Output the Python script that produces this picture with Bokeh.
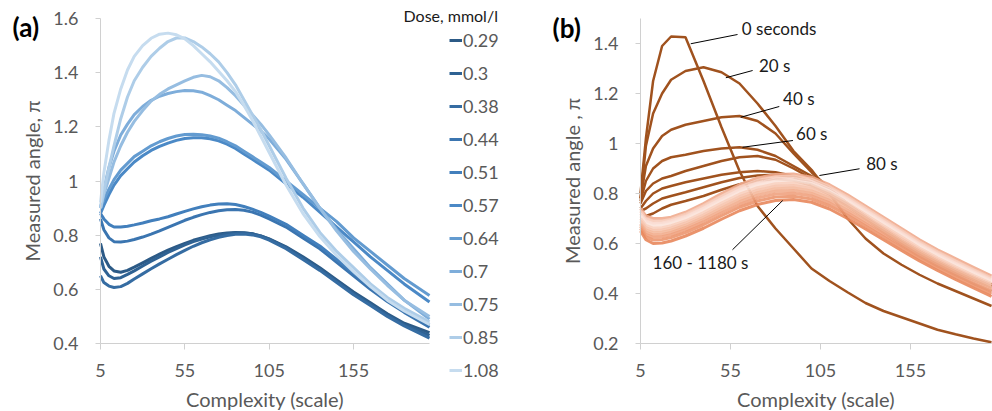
from bokeh.plotting import figure
from bokeh.models import Range1d, FixedTicker, Legend, LegendItem, Label, LinearAxis
from bokeh.layouts import row
from bokeh.embed import file_html
from bokeh.resources import INLINE

FONT = "Lato"
GREY = "#595959"
AXIS_GREY = "#d0d0d0"

# ---------------- Panel (a): dose series ----------------
COMPLEXITY_A = [5, 7, 10, 13, 17, 21, 25, 30, 35, 40, 45, 50, 55, 60, 65, 70, 75, 80, 85, 90, 95, 100,
                105, 115, 125, 135, 145, 155, 165, 175, 185, 200]
DOSE_LABELS = ["0.29", "0.3", "0.38", "0.44", "0.51", "0.57", "0.64", "0.7", "0.75", "0.85", "1.08"]
dose_029 = [0.77, 0.72, 0.685, 0.668, 0.663, 0.67, 0.682, 0.698, 0.714, 0.73, 0.745, 0.758, 0.77, 0.781, 0.79, 0.798,
            0.804, 0.808, 0.81, 0.809, 0.805, 0.797, 0.786, 0.757, 0.72, 0.68, 0.635, 0.59, 0.55, 0.51, 0.475, 0.44]
dose_030 = [0.72, 0.675, 0.65, 0.64, 0.643, 0.655, 0.668, 0.686, 0.704, 0.72, 0.736, 0.75, 0.764, 0.776, 0.786, 0.794,
            0.80, 0.805, 0.808, 0.808, 0.805, 0.797, 0.785, 0.755, 0.715, 0.675, 0.63, 0.585, 0.545, 0.505, 0.47, 0.43]
dose_038 = [0.65, 0.625, 0.612, 0.607, 0.61, 0.622, 0.638, 0.657, 0.676, 0.694, 0.711, 0.728, 0.744, 0.759, 0.772, 0.783,
            0.792, 0.799, 0.803, 0.804, 0.801, 0.794, 0.782, 0.75, 0.71, 0.67, 0.625, 0.58, 0.54, 0.50, 0.465, 0.42]
dose_044 = [0.86, 0.82, 0.79, 0.776, 0.775, 0.778, 0.784, 0.793, 0.804, 0.816, 0.829, 0.842, 0.855, 0.866, 0.876, 0.884,
            0.89, 0.894, 0.895, 0.892, 0.885, 0.874, 0.86, 0.83, 0.79, 0.75, 0.70, 0.65, 0.60, 0.555, 0.515, 0.46]
dose_051 = [0.88, 0.86, 0.84, 0.83, 0.83, 0.833, 0.838, 0.845, 0.853, 0.86, 0.868, 0.878, 0.888, 0.897, 0.905, 0.911,
            0.915, 0.916, 0.913, 0.906, 0.896, 0.884, 0.87, 0.84, 0.80, 0.76, 0.71, 0.66, 0.61, 0.565, 0.525, 0.47]
dose_057 = [0.88, 0.91, 0.95, 0.985, 1.02, 1.045, 1.07, 1.093, 1.113, 1.128, 1.14, 1.15, 1.157, 1.16, 1.16, 1.156,
            1.148, 1.136, 1.12, 1.10, 1.08, 1.06, 1.04, 0.99, 0.94, 0.885, 0.83, 0.775, 0.72, 0.67, 0.62, 0.553]
dose_064 = [0.90, 0.93, 0.97, 1.005, 1.04, 1.065, 1.09, 1.11, 1.13, 1.145, 1.157, 1.166, 1.172, 1.173, 1.171, 1.166,
            1.158, 1.145, 1.13, 1.11, 1.09, 1.07, 1.05, 1.00, 0.95, 0.90, 0.85, 0.79, 0.74, 0.69, 0.64, 0.577]
dose_070 = [0.90, 0.97, 1.05, 1.11, 1.17, 1.21, 1.245, 1.275, 1.298, 1.313, 1.323, 1.33, 1.334, 1.333, 1.328, 1.315,
            1.30, 1.28, 1.26, 1.235, 1.21, 1.185, 1.155, 1.08, 0.99, 0.90, 0.82, 0.75, 0.68, 0.62, 0.56, 0.49]
dose_075 = [0.90, 0.95, 1.01, 1.07, 1.13, 1.18, 1.22, 1.26, 1.295, 1.32, 1.34, 1.355, 1.37, 1.383, 1.39, 1.385,
            1.37, 1.345, 1.315, 1.28, 1.245, 1.21, 1.17, 1.085, 0.99, 0.90, 0.815, 0.74, 0.675, 0.615, 0.56, 0.50]
dose_085 = [0.90, 0.96, 1.05, 1.13, 1.23, 1.31, 1.37, 1.42, 1.46, 1.49, 1.515, 1.528, 1.528, 1.515, 1.495, 1.47,
            1.44, 1.40, 1.355, 1.30, 1.245, 1.19, 1.13, 1.01, 0.90, 0.81, 0.74, 0.68, 0.62, 0.57, 0.53, 0.48]
dose_108 = [0.92, 1.03, 1.15, 1.25, 1.34, 1.41, 1.46, 1.50, 1.527, 1.542, 1.546, 1.54, 1.525, 1.50, 1.47, 1.44,
            1.405, 1.37, 1.33, 1.28, 1.225, 1.165, 1.105, 0.985, 0.88, 0.795, 0.725, 0.665, 0.61, 0.56, 0.52, 0.47]
DOSE_SERIES = [dose_029, dose_030, dose_038, dose_044, dose_051, dose_057,
               dose_064, dose_070, dose_075, dose_085, dose_108]
DOSE_COLORS = ["#2c5a86", "#2f6293", "#356ca2", "#3b75b0", "#427fbc", "#4b89c6",
               "#639bd0", "#7eadda", "#96bde1", "#aecde8", "#c6dcef"]

X_TICKS = [5, 55, 105, 155]
X_BOUNDS = (5, 200)
Y_TICKS_A = [0.4, 0.6, 0.8, 1.0, 1.2, 1.4, 1.6]
Y_LABELS_A = ["0.4", "0.6", "0.8", "1", "1.2", "1.4", "1.6"]
Y_BOUNDS_A = (0.4, 1.6)

# ---------------- Panel (b): time series ----------------
COMPLEXITY_B = [5, 8, 12, 17, 22, 30, 40, 50, 60, 70, 80, 90, 100, 110, 120, 130, 140, 150, 160, 170, 180, 190, 200]
t_000 = [0.80, 1.02, 1.25, 1.39, 1.428, 1.425, 1.25, 1.065, 0.89, 0.75, 0.66, 0.58, 0.50, 0.45, 0.405, 0.362, 0.33, 0.305, 0.28, 0.255, 0.237, 0.22, 0.205]
t_020 = [0.78, 0.99, 1.12, 1.20, 1.255, 1.29, 1.305, 1.285, 1.24, 1.16, 1.07, 0.97, 0.895, 0.80, 0.70, 0.62, 0.56, 0.515, 0.475, 0.44, 0.41, 0.38, 0.35]
t_040 = [0.78, 0.91, 0.98, 1.03, 1.055, 1.075, 1.09, 1.105, 1.11, 1.09, 1.04, 0.96, 0.885, 0.82, 0.76, 0.70, 0.645, 0.595, 0.55, 0.51, 0.475, 0.44, 0.41]
t_060 = [0.77, 0.85, 0.90, 0.93, 0.945, 0.955, 0.97, 0.98, 0.985, 0.975, 0.95, 0.91, 0.87, 0.82, 0.76, 0.705, 0.65, 0.60, 0.56, 0.52, 0.485, 0.455, 0.425]
t_080 = [0.76, 0.81, 0.84, 0.86, 0.87, 0.89, 0.91, 0.93, 0.945, 0.95, 0.935, 0.90, 0.86, 0.815, 0.76, 0.705, 0.655, 0.605, 0.565, 0.525, 0.49, 0.46, 0.43]
t_100 = [0.74, 0.77, 0.80, 0.82, 0.83, 0.845, 0.86, 0.875, 0.885, 0.89, 0.885, 0.87, 0.845, 0.805, 0.76, 0.71, 0.66, 0.612, 0.57, 0.53, 0.495, 0.465, 0.435]
t_120 = [0.73, 0.74, 0.76, 0.78, 0.79, 0.805, 0.825, 0.845, 0.862, 0.872, 0.875, 0.865, 0.84, 0.80, 0.755, 0.705, 0.655, 0.61, 0.57, 0.53, 0.495, 0.465, 0.435]
t_140 = [0.72, 0.71, 0.72, 0.74, 0.755, 0.77, 0.79, 0.815, 0.837, 0.852, 0.858, 0.852, 0.832, 0.795, 0.75, 0.70, 0.65, 0.605, 0.565, 0.525, 0.49, 0.46, 0.43]
EARLY_SERIES = [t_000, t_020, t_040, t_060, t_080, t_100, t_120, t_140]

late_a = [0.74, 0.71, 0.70, 0.70, 0.705, 0.725, 0.76, 0.80, 0.835, 0.862, 0.876, 0.878, 0.865, 0.835, 0.795, 0.75, 0.705, 0.66, 0.615, 0.575, 0.54, 0.505, 0.47]
late_b = [0.73, 0.70, 0.69, 0.69, 0.697, 0.717, 0.752, 0.79, 0.826, 0.852, 0.867, 0.87, 0.857, 0.827, 0.787, 0.742, 0.697, 0.652, 0.607, 0.567, 0.531, 0.496, 0.462]
late_c = [0.72, 0.69, 0.68, 0.682, 0.69, 0.708, 0.742, 0.78, 0.816, 0.842, 0.858, 0.86, 0.848, 0.818, 0.778, 0.733, 0.688, 0.643, 0.598, 0.558, 0.522, 0.488, 0.454]
late_d = [0.71, 0.68, 0.67, 0.672, 0.68, 0.70, 0.733, 0.771, 0.806, 0.833, 0.849, 0.851, 0.84, 0.81, 0.77, 0.725, 0.68, 0.635, 0.59, 0.551, 0.515, 0.481, 0.447]
late_e = [0.70, 0.672, 0.661, 0.663, 0.671, 0.69, 0.724, 0.762, 0.797, 0.823, 0.839, 0.842, 0.83, 0.801, 0.761, 0.716, 0.671, 0.627, 0.582, 0.543, 0.507, 0.473, 0.44]
late_f = [0.69, 0.663, 0.652, 0.654, 0.662, 0.682, 0.714, 0.752, 0.787, 0.813, 0.829, 0.832, 0.82, 0.792, 0.752, 0.707, 0.663, 0.619, 0.575, 0.536, 0.50, 0.466, 0.432]
late_g = [0.68, 0.654, 0.643, 0.645, 0.653, 0.673, 0.705, 0.742, 0.777, 0.803, 0.819, 0.822, 0.81, 0.782, 0.743, 0.698, 0.654, 0.61, 0.567, 0.528, 0.492, 0.458, 0.424]
late_h = [0.675, 0.645, 0.634, 0.636, 0.644, 0.664, 0.696, 0.732, 0.767, 0.793, 0.809, 0.812, 0.80, 0.772, 0.733, 0.689, 0.645, 0.601, 0.558, 0.52, 0.484, 0.45, 0.416]
late_i = [0.668, 0.636, 0.625, 0.627, 0.635, 0.655, 0.686, 0.722, 0.756, 0.782, 0.798, 0.801, 0.79, 0.762, 0.723, 0.68, 0.636, 0.592, 0.549, 0.511, 0.475, 0.441, 0.407]
late_j = [0.66, 0.626, 0.614, 0.616, 0.624, 0.644, 0.675, 0.711, 0.745, 0.77, 0.786, 0.789, 0.778, 0.751, 0.713, 0.67, 0.627, 0.583, 0.54, 0.502, 0.466, 0.432, 0.398]
late_k = [0.65, 0.615, 0.60, 0.602, 0.61, 0.63, 0.661, 0.697, 0.731, 0.756, 0.772, 0.776, 0.765, 0.738, 0.70, 0.658, 0.615, 0.572, 0.53, 0.492, 0.456, 0.422, 0.388]
LATE_SERIES = [late_a, late_b, late_c, late_d, late_e, late_f, late_g, late_h, late_i, late_j, late_k]
LATE_COLORS = ["#f0ab8e", "#f7cbb9", "#fadad0", "#fbe3da", "#f8d0bf", "#f6c4ae",
               "#f4ba9f", "#f2ae8f", "#efa27f", "#ec966f", "#e8875c"]
EARLY_COLOR = "#a0521e"

Y_TICKS_B = [0.2, 0.4, 0.6, 0.8, 1.0, 1.2, 1.4]
Y_LABELS_B = ["0.2", "0.4", "0.6", "0.8", "1", "1.2", "1.4"]
Y_BOUNDS_B = (0.2, 1.5)

# annotations of panel (b): text, text anchor, leader line start/end (data units)
NOTE_TEXT = ["0 seconds", "20 s", "40 s", "60 s", "80 s", "160 - 1180 s"]
NOTE_X = [61.3, 70.8, 84.2, 91.4, 130.4, 11.7]
NOTE_Y = [1.46, 1.312, 1.18, 1.04, 0.92, 0.524]
LEAD_X0 = [32.9, 52.4, 60.7, 61.7, 104.4, 56.1]
LEAD_Y0 = [1.399, 1.263, 1.105, 0.985, 0.872, 0.575]
LEAD_X1 = [58.9, 67.3, 82.1, 89.7, 126.7, 84.0]
LEAD_Y1 = [1.436, 1.292, 1.148, 1.012, 0.899, 0.772]

# ---------------- layout (pixels) ----------------
H = 411
W_A, W_B = 540, 452


def span(p0, v0, p1, v1, size):
    """range such that value v0 sits at pixel p0 and v1 at p1 (pixels from start)."""
    k = (v1 - v0) / (p1 - p0)
    return Range1d(v0 - p0 * k, v0 + (size - p0) * k)


def add_axes(p, yticks, ylabels, ybounds, ylabel, ylab_std, yaxis_std):
    xa = LinearAxis(fixed_location=ybounds[0], bounds=X_BOUNDS, ticker=FixedTicker(ticks=X_TICKS),
                    axis_label="Complexity (scale)")
    ya = LinearAxis(fixed_location=X_BOUNDS[0], bounds=ybounds, ticker=FixedTicker(ticks=yticks),
                    axis_label=ylabel)
    ya.major_label_overrides = dict(zip(yticks, ylabels))
    for ax in (xa, ya):
        ax.axis_line_color = AXIS_GREY
        ax.major_tick_line_color = AXIS_GREY
        ax.minor_tick_line_color = None
        ax.major_tick_in = 0
        ax.major_label_text_font = FONT
        ax.major_label_text_font_size = "18px"
        ax.major_label_text_color = GREY
        ax.axis_label_text_font = FONT
        ax.axis_label_text_font_size = "20px"
        ax.axis_label_text_color = GREY
        ax.axis_label_text_font_style = "normal"
    xa.major_tick_out = 6
    xa.major_label_standoff = 14
    xa.axis_label_standoff = 7
    ya.major_tick_out = 5
    ya.major_label_standoff = ylab_std
    ya.axis_label_standoff = yaxis_std
    p.add_layout(xa, "below")
    p.add_layout(ya, "left")


def base_figure(width, xr, yr):
    p = figure(width=width, height=H, x_range=xr, y_range=yr, x_axis_type=None, y_axis_type=None,
               output_backend="svg", toolbar_location=None, min_border=0,
               min_border_left=0, min_border_right=0, min_border_top=0, min_border_bottom=0)
    p.xgrid.visible = False
    p.ygrid.visible = False
    p.outline_line_color = None
    p.background_fill_color = "white"
    p.border_fill_color = "white"
    return p


# ---------------- figure (a) ----------------
pa = base_figure(W_A, span(100, 5, 429, 200, W_A), span(H - 343, 0.4, H - 18, 1.6, H))
add_axes(pa, Y_TICKS_A, Y_LABELS_A, Y_BOUNDS_A, "Measured angle, π", 17, 6)

items = []
for lab, ys, col in zip(DOSE_LABELS, DOSE_SERIES, DOSE_COLORS):
    r = pa.line(COMPLEXITY_A, ys, line_color=col, line_width=3)
    items.append(LegendItem(label=lab, renderers=[r]))

leg = Legend(items=items, location=(449, 29), padding=0, margin=0,
             glyph_width=13, glyph_height=24, label_height=24, spacing=9,
             label_standoff=1, label_text_font=FONT, label_text_font_size="18px",
             label_text_color=GREY, background_fill_alpha=0, border_line_color=None)
pa.add_layout(leg)

pa.add_layout(Label(x=403, y=H - 15, x_units="screen", y_units="screen", text="Dose, mmol/l",
                    text_font=FONT, text_font_size="16px", text_color="#1a1a1a",
                    text_baseline="middle", text_align="left"))
pa.add_layout(Label(x=12, y=H - 26, x_units="screen", y_units="screen", text="(a)",
                    text_font=FONT, text_font_size="26px", text_font_style="bold",
                    text_color="black", text_baseline="middle", text_align="left"))

# ---------------- figure (b) ----------------
pb = base_figure(W_B, span(100, 5, 451, 200, W_B), span(H - 343, 0.2, H - 43, 1.4, H))
add_axes(pb, Y_TICKS_B, Y_LABELS_B, Y_BOUNDS_B, "Measured angle , π", 17, 6)

for ys in EARLY_SERIES:
    pb.line(COMPLEXITY_B, ys, line_color=EARLY_COLOR, line_width=2.5)
for ys, col in zip(LATE_SERIES, LATE_COLORS):
    pb.line(COMPLEXITY_B, ys, line_color=col, line_width=3, line_alpha=0.9)

pb.segment(x0=LEAD_X0, y0=LEAD_Y0, x1=LEAD_X1, y1=LEAD_Y1, line_color="black", line_width=1)
for t, x, y in zip(NOTE_TEXT, NOTE_X, NOTE_Y):
    pb.add_layout(Label(x=x, y=y, text=t, text_font=FONT, text_font_size="17px",
                        text_color="#1a1a1a", text_baseline="middle", text_align="left"))

pb.add_layout(Label(x=12, y=H - 27, x_units="screen", y_units="screen", text="(b)",
                    text_font=FONT, text_font_size="26px", text_font_style="bold",
                    text_color="black", text_baseline="middle", text_align="left"))

layout = row(pa, pb)
open("out.html", "w").write(file_html(layout, INLINE))
